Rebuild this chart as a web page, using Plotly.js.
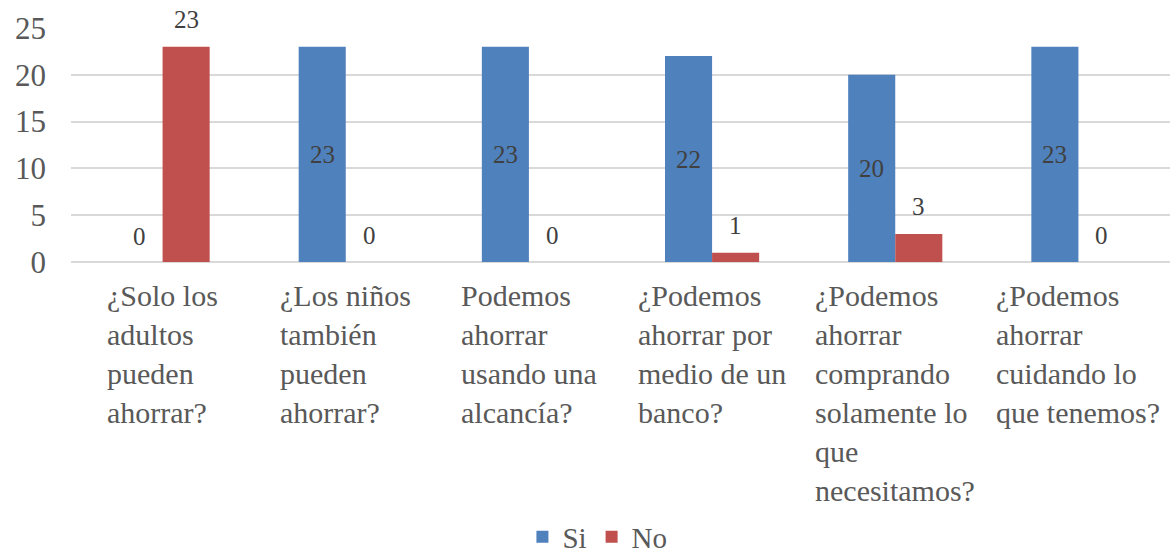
<!DOCTYPE html>
<html>
<head>
<meta charset="utf-8">
<script src="https://cdn.plot.ly/plotly-3.0.1.min.js"></script>
<style>html,body{margin:0;padding:0;background:#fff;}#chart{width:1170px;height:554px;}</style>
</head>
<body>
<div id="chart"></div>
<script>
const categories = [
  "¿Solo los<br>adultos<br>pueden<br>ahorrar?",
  "¿Los niños<br>también<br>pueden<br>ahorrar?",
  "Podemos<br>ahorrar<br>usando una<br>alcancía?",
  "¿Podemos<br>ahorrar por<br>medio de un<br>banco?",
  "¿Podemos<br>ahorrar<br>comprando<br>solamente lo<br>que<br>necesitamos?",
  "¿Podemos<br>ahorrar<br>cuidando lo<br>que tenemos?"
];
const siValues = [0, 23, 23, 22, 20, 23];
const noValues = [23, 0, 0, 1, 3, 0];
const seriesNames = ["Si", "No"];
const yTicks = [0, 5, 10, 15, 20, 25];

const serif = "Liberation Serif";
const idx = categories.map((c, i) => i);
const bargap = 0.486;
const half = (1 - bargap) / 4;

const traces = [
  {type: "bar", name: seriesNames[0], x: idx, y: siValues, marker: {color: "#4F81BD"}, hoverinfo: "none"},
  {type: "bar", name: seriesNames[1], x: idx, y: noValues, marker: {color: "#C0504D"}, hoverinfo: "none"}
];

const annotations = [];
siValues.forEach((v, i) => {
  annotations.push({x: i - half, y: v > 0 ? v / 2 : 0, yshift: v > 0 ? 0 : 26, text: String(v), showarrow: false,
    xanchor: "center", yanchor: "middle", font: {family: serif, size: 25, color: "#404040"}});
});
noValues.forEach((v, i) => {
  annotations.push({x: i + half, y: v, yshift: 27, text: String(v), showarrow: false,
    xanchor: "center", yanchor: "middle", font: {family: serif, size: 25, color: "#404040"}});
});
categories.forEach((c, i) => {
  annotations.push({x: i, xref: "x", y: 0, yref: "paper", yanchor: "top", xanchor: "center", align: "left",
    yshift: -15, text: c, showarrow: false, font: {family: serif, size: 30, color: "#595959"}});
});

const layout = {
  width: 1170, height: 554,
  margin: {l: 71, r: 0, t: 28, b: 292, autoexpand: false},
  paper_bgcolor: "#fff", plot_bgcolor: "#fff",
  barmode: "group", bargap: bargap, bargroupgap: 0,
  font: {family: serif, color: "#595959"},
  xaxis: {range: [-0.5, 5.5], showticklabels: false, showgrid: false, zeroline: false, ticks: "", fixedrange: true},
  yaxis: {range: [0, 25], tickvals: yTicks, showgrid: true, gridcolor: "#D9D9D9", gridwidth: 1.5,
    zeroline: true, zerolinecolor: "#D9D9D9", zerolinewidth: 1.5, ticks: "", ticklabelstandoff: 24,
    tickfont: {family: serif, size: 31, color: "#595959"}, fixedrange: true},
  showlegend: true,
  legend: {orientation: "h", x: 0.479, xanchor: "center", y: -1.175, yref: "paper", yanchor: "middle",
    font: {family: serif, size: 29, color: "#595959"}, itemwidth: 30, traceorder: "normal"},
  annotations: annotations
};

Plotly.newPlot("chart", traces, layout, {displayModeBar: false});
</script>
</body>
</html>
